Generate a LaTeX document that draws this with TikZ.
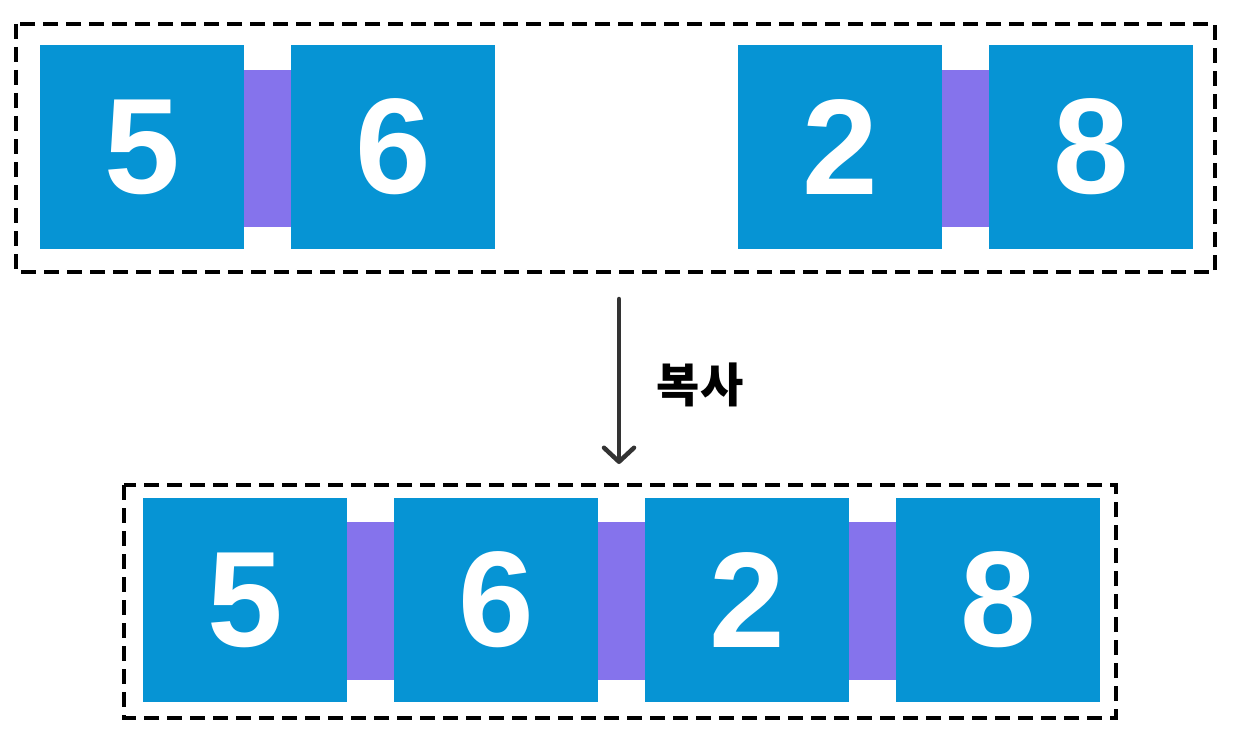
\documentclass[tikz,border=0pt]{standalone}
\usepackage{fontspec}
\setmainfont{Liberation Sans}
\newfontfamily\kr{Noto Sans CJK KR}
\usetikzlibrary{arrows.meta}
\definecolor{cellblue}{HTML}{0694D4}
\definecolor{linkpurple}{HTML}{8573EC}
\definecolor{arrowgray}{HTML}{333333}
\newcommand{\celldigit}[1]{\raisebox{-3pt}{#1}}
\tikzset{
  cell/.style={fill=cellblue, draw=none, minimum width=204pt, minimum height=204pt, inner sep=0pt,
    text=white, font=\bfseries\fontsize{136}{136}\selectfont},
  frame/.style={draw=black, line width=3.5pt, dash pattern=on 15pt off 8pt},
  linkbar/.style={fill=linkpurple, draw=none},
}
\begin{document}
\begin{tikzpicture}[x=1pt,y=-1pt]
\useasboundingbox (0,0) rectangle (1241,741);
% top frame
\draw[frame] (16,24) rectangle (1215,272);
\node[cell] (a1) at (142,147) {\celldigit{5}};
\node[cell] (a2) at (393,147) {\celldigit{6}};
\node[cell] (a3) at (840,147) {\celldigit{2}};
\node[cell] (a4) at (1091,147) {\celldigit{8}};
\fill[linkbar] ([yshift=-25pt]a1.north east) rectangle ([yshift=22pt]a2.south west);
\fill[linkbar] ([yshift=-25pt]a3.north east) rectangle ([yshift=22pt]a4.south west);
% arrow
\coordinate (s) at (619,299);
\coordinate (e) at (619,464);
\draw[arrowgray, line width=4.5pt, line cap=round, -{Straight Barb[length=14pt,width=30pt,line cap=round,line join=round]}] (s) -- (e);
\node[font=\kr\bfseries\fontsize{47}{47}\selectfont, text=black] (lbl) at (700,385) {복사};
% bottom frame
\draw[frame] (124,485) rectangle (1116,718);
\node[cell] (b1) at (245,600) {\celldigit{5}};
\node[cell] (b2) at (496,600) {\celldigit{6}};
\node[cell] (b3) at (747,600) {\celldigit{2}};
\node[cell] (b4) at (998,600) {\celldigit{8}};
\fill[linkbar] ([yshift=-24pt]b1.north east) rectangle ([yshift=22pt]b2.south west);
\fill[linkbar] ([yshift=-24pt]b2.north east) rectangle ([yshift=22pt]b3.south west);
\fill[linkbar] ([yshift=-24pt]b3.north east) rectangle ([yshift=22pt]b4.south west);
\end{tikzpicture}
\end{document}
